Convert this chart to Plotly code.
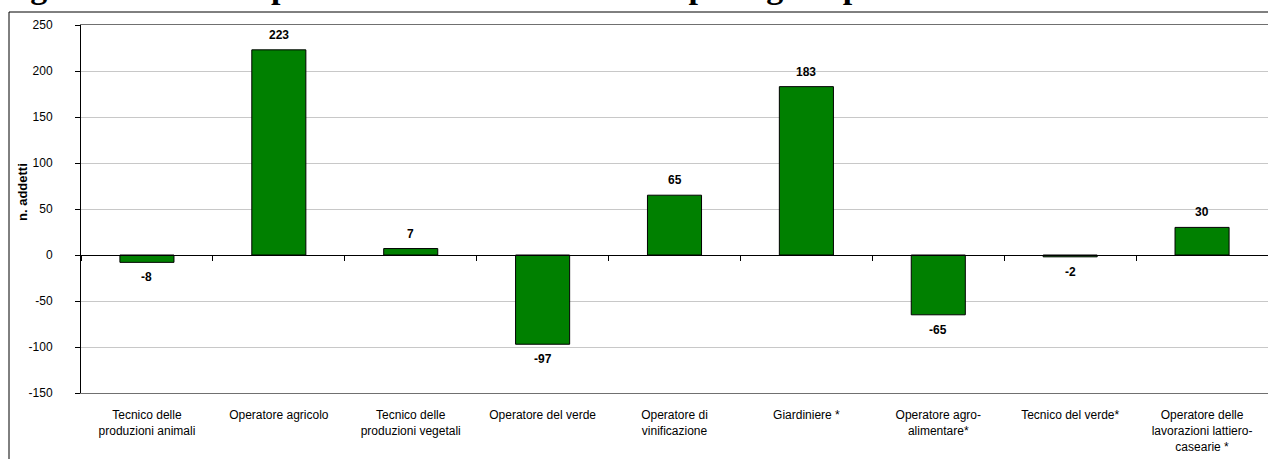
import plotly.graph_objects as go

categories = [
    "Tecnico delle<br>produzioni animali",
    "Operatore agricolo",
    "Tecnico delle<br>produzioni vegetali",
    "Operatore del verde",
    "Operatore di<br>vinificazione",
    "Giardiniere *",
    "Operatore agro-<br>alimentare*",
    "Tecnico del verde*",
    "Operatore delle<br>lavorazioni lattiero-<br>casearie *",
]
values = [-8, 223, 7, -97, 65, 183, -65, -2, 30]
y_ticks = [250, 200, 150, 100, 50, 0, -50, -100, -150]
title_text = "Fig. 3 – Saldo occupazionale nel medio termine per figura professionale"
y_title = "n. addetti"

W, H = 1268, 459
L, R, T, B = 81, 0, 25, 66
plot_w = W - L - R
plot_h = H - T - B
ymin, ymax = -150, 250

fig = go.Figure()
fig.add_trace(go.Bar(
    x=categories, y=values,
    marker=dict(color="#008000", line=dict(color="#000000", width=1)),
    hoverinfo="skip", showlegend=False,
))
# invisible trace to carry the zero-crossing category axis with boundary ticks
fig.add_trace(go.Scatter(
    x=categories, y=values, xaxis="x2", mode="markers",
    marker=dict(opacity=0), hoverinfo="skip", showlegend=False,
))

annotations = []
for c, v in zip(categories, values):
    annotations.append(dict(
        x=c, y=v, xref="x", yref="y", text=f"<b>{v}</b>", showarrow=False,
        yanchor="bottom" if v >= 0 else "top",
        yshift=6 if v >= 0 else -6,
        font=dict(family="Liberation Sans, Arial", size=12, color="#000000"),
    ))

# y-axis title
annotations.append(dict(
    x=(22 - L) / plot_w, y=(H - B - 192) / plot_h, xref="paper", yref="paper",
    text=f"<b>{y_title}</b>", textangle=-90, showarrow=False,
    xanchor="center", yanchor="middle",
    font=dict(family="Liberation Sans, Arial", size=13, color="#000000"),
))
# title (partially cut off by top of page, as in the reference)
fs = 34
annotations.append(dict(
    x=(-2 - L) / plot_w, y=1 + (T - (-2 - 0.35 * fs)) / plot_h,
    xref="paper", yref="paper", text=f"<b>{title_text}</b>", showarrow=False,
    xanchor="left", yanchor="middle",
    font=dict(family="Liberation Serif, Times New Roman", size=fs, color="#000000"),
))

shapes = [dict(
    type="rect", xref="paper", yref="paper",
    x0=(9 - L) / plot_w, x1=1.2, y0=-0.5, y1=1 + (T - 12) / plot_h,
    line=dict(color="#000000", width=1), fillcolor="rgba(0,0,0,0)", layer="above",
)]

fig.update_layout(
    width=W, height=H,
    margin=dict(l=L, r=R, t=T, b=B, pad=0),
    paper_bgcolor="#ffffff", plot_bgcolor="#ffffff",
    bargap=0.59,
    font=dict(family="Liberation Sans, Arial", size=12, color="#000000"),
    xaxis=dict(
        type="category", categoryorder="array", categoryarray=categories,
        showgrid=False, zeroline=False, ticks="",
        showline=True, linecolor="#707070", linewidth=1, mirror=True,
        ticklabelstandoff=11,
        tickfont=dict(family="Liberation Sans, Arial", size=12, color="#000000"),
        range=[-0.5, len(categories) - 0.5],
    ),
    xaxis2=dict(
        type="category", categoryorder="array", categoryarray=categories,
        overlaying="x", anchor="free", position=(0 - ymin) / (ymax - ymin),
        showgrid=False, zeroline=False, showticklabels=False,
        ticks="outside", tickson="boundaries", ticklen=5, tickcolor="#000000",
        showline=True, linecolor="#000000", linewidth=1,
        range=[-0.5, len(categories) - 0.5],
    ),
    yaxis=dict(
        range=[ymin, ymax], tickvals=y_ticks, ticktext=[str(t) for t in y_ticks],
        showgrid=True, gridcolor="#c8c8c8", gridwidth=1, zeroline=False,
        showline=True, linecolor="#000000", linewidth=1,
        ticks="outside", ticklen=5, tickcolor="#000000",
        ticklabelstandoff=20,
        tickfont=dict(family="Liberation Sans, Arial", size=12, color="#000000"),
    ),
    annotations=annotations, shapes=shapes,
)

fig.write_html("out.html")
